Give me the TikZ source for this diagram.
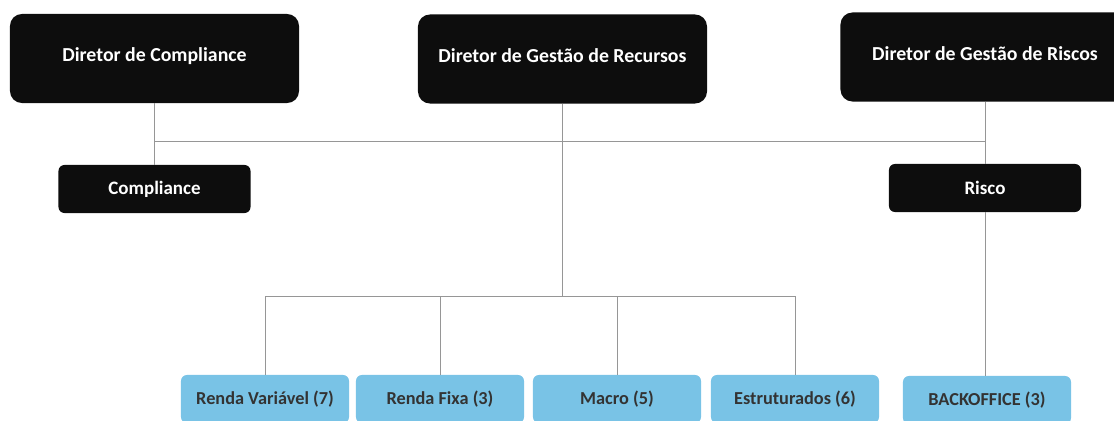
\documentclass[tikz,border=0pt]{standalone}
\usepackage{fontspec}
\setmainfont{Carlito}
\usepackage{tikz}
\definecolor{boxblue}{RGB}{121,195,230}
\definecolor{linegray}{RGB}{150,150,150}
\definecolor{txtgray}{RGB}{51,51,51}
\tikzset{
  diretor/.style={fill=black!95,rounded corners=0.3cm,minimum width=7.225cm,minimum height=2.225cm,text height=0.4cm,text depth=0.23cm,text=white,font=\fontsize{14.1}{16}\selectfont\bfseries},
  setor/.style={fill=black!95,rounded corners=0.15cm,minimum width=4.8cm,minimum height=1.2cm,text=white,font=\fontsize{13.5}{16}\selectfont\bfseries},
  equipe/.style={fill=boxblue,rounded corners=0.15cm,minimum width=4.2cm,minimum height=1.2cm,text=txtgray,font=\fontsize{13}{16}\selectfont\bfseries},
  liga/.style={draw=linegray,line width=0.6pt}
}

\begin{document}
\begin{tikzpicture}[x=0.025cm,y=-0.025cm]
   \useasboundingbox (0,0) rectangle (1114,421);
   \clip (0,0) rectangle (1114,421);
   % directors
   \node[diretor] (dircomp) at (154.5,58.5) {Diretor de Compliance};
   \node[diretor] (dirrec) at (562.5,59) {Diretor de Gestão de Recursos};
   \node[diretor] (dirrisc) at (985,57) {Diretor de Gestão de Riscos};
   % areas
   \node[setor] (comp) at (154.5,189) {Compliance};
   \node[setor] (risco) at (985,188) {Risco};
   % teams
   \node[equipe] (rv) at (265,399) {Renda Variável (7)};
   \node[equipe] (rf) at (440,399) {Renda Fixa (3)};
   \node[equipe] (macro) at (617,399) {Macro (5)};
   \node[equipe] (estr) at (795,399) {Estruturados (6)};
   \node[equipe] (back) at (987,400) {BACKOFFICE (3)};
   % lines
   \coordinate (bus) at (0,141);
   \coordinate (gestao) at (0,296);
   \draw[liga] (dircomp.south) -- (comp.north);
   \draw[liga] (dircomp.south |- bus) -- (dirrisc.south |- bus);
   \draw[liga] (dirrisc.south) -- (risco.north);
   \draw[liga] (risco.south) -- (risco.south |- back.north);
   \draw[liga] (dirrec.south) -- (dirrec.south |- gestao);
   \draw[liga] (rv.north |- gestao) -- (estr.north |- gestao);
   \foreach \n in {rv,rf,macro,estr}
      \draw[liga] (\n.north |- gestao) -- (\n.north);
\end{tikzpicture}
\end{document}
